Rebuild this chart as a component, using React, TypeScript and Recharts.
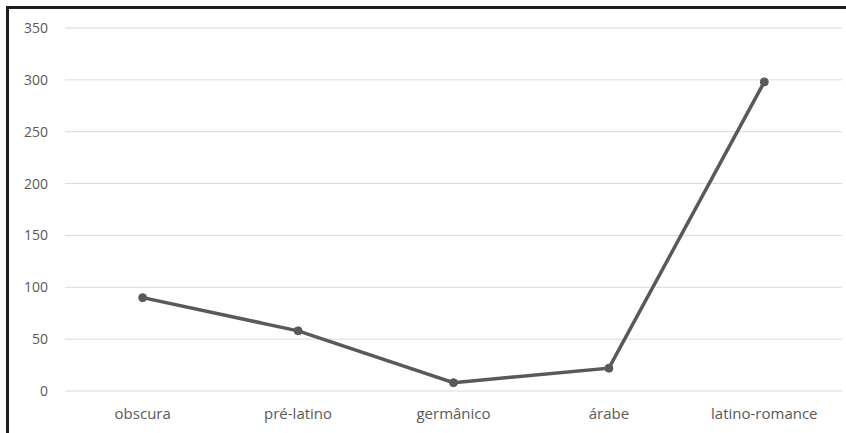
import { LineChart, Line, XAxis, YAxis, CartesianGrid } from 'recharts';

const categories = ['obscura', 'pré-latino', 'germânico', 'árabe', 'latino-romance'];
const counts = [90, 58, 8, 22, 298];
const yTicks = [0, 50, 100, 150, 200, 250, 300, 350];

const data = categories.map((name, i) => ({ name, value: counts[i] }));

const TEXT = '#595959';

export default function App() {
  return (
    <div
      style={{
        position: 'fixed',
        top: 6,
        left: 6,
        width: 880,
        height: 480,
        border: '3px solid #1e1e1e',
        background: '#fff',
        fontFamily: '"Open Sans", sans-serif',
      }}
    >
      <LineChart
        width={860}
        height={440}
        data={data}
        margin={{ top: 19, right: 27, left: 0, bottom: 28 }}
      >
        <CartesianGrid vertical={false} stroke="#d9d9d9" strokeWidth={1} />
        <XAxis
          dataKey="name"
          scale="band"
          axisLine={false}
          tickLine={false}
          tickMargin={11}
          tick={{ fill: TEXT, fontSize: 15 }}
          interval={0}
        />
        <YAxis
          width={56}
          domain={[0, 350]}
          ticks={yTicks}
          axisLine={false}
          tickLine={false}
          tickMargin={11}
          tick={{ fill: TEXT, fontSize: 14 }}
        />
        <Line
          type="linear"
          dataKey="value"
          stroke="#595959"
          strokeWidth={3.5}
          dot={{ r: 4, fill: '#595959', stroke: '#595959', strokeWidth: 1 }}
          isAnimationActive={false}
        />
      </LineChart>
    </div>
  );
}
